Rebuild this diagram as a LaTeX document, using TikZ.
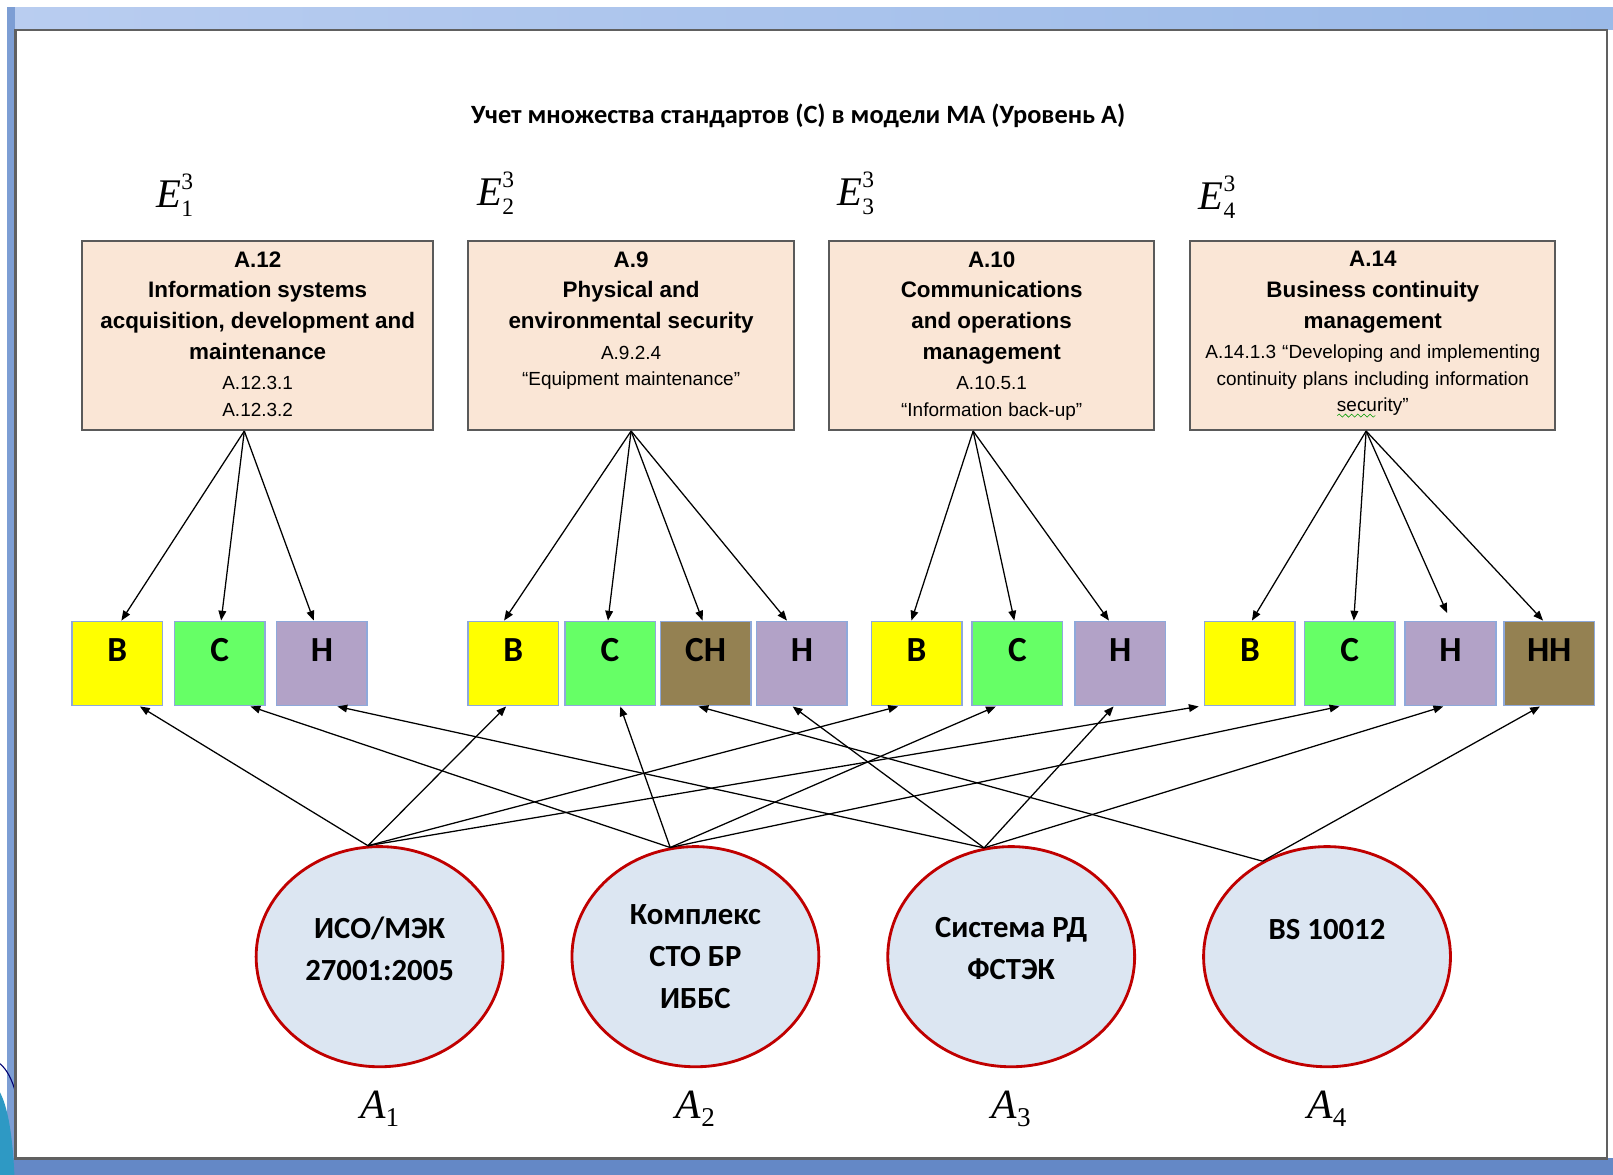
\documentclass[tikz,border=0pt]{standalone}
\usepackage{fontspec}
\setmainfont{Liberation Sans}
\newfontfamily\arialf{Liberation Sans}
\newfontfamily\calibf{Carlito}
\newfontfamily\timesf{Liberation Serif}
\usetikzlibrary{shapes.geometric,arrows.meta,decorations.pathmorphing}

\definecolor{peach}{RGB}{250,230,214}
\definecolor{boxline}{RGB}{90,90,90}
\definecolor{sqline}{RGB}{142,169,219}
\definecolor{yel}{RGB}{255,255,0}
\definecolor{grn}{RGB}{102,255,102}
\definecolor{lav}{RGB}{178,162,199}
\definecolor{sqolive}{RGB}{148,129,82}
\definecolor{ellfill}{RGB}{220,230,242}
\definecolor{ellline}{RGB}{192,0,0}
\definecolor{bandL}{RGB}{185,205,240}
\definecolor{bandR}{RGB}{155,186,232}
\definecolor{bandside}{RGB}{125,158,212}
\definecolor{bandbot}{RGB}{100,136,198}

\newcommand{\hdrtxt}{\arialf\bfseries\fontsize{12.4}{17}\selectfont}
\newcommand{\subtxt}{\arialf\mdseries\fontsize{10.5}{14.5}\selectfont}
\newcommand{\esym}[3]{{\timesf\itshape\fontsize{22.5}{24}\selectfont #1}%
  \rlap{\raisebox{10pt}{\timesf\fontsize{13}{13}\selectfont #3}}%
  \raisebox{-5pt}{\timesf\fontsize{13}{13}\selectfont #2}}
\newcommand{\asym}[2]{{\timesf\itshape\fontsize{23}{24}\selectfont #1}%
  \raisebox{-4.5pt}{\timesf\fontsize{15}{15}\selectfont #2}}
\newcommand{\lowpad}{\rule[-9pt]{0pt}{9pt}}

\begin{document}
\begin{tikzpicture}[x=0.2mm,y=-0.2mm,
    box/.style={draw=boxline, line width=0.4mm, fill=peach, minimum height=36.8mm, inner sep=0pt},
    boxtxt/.style={anchor=north, align=center, inner sep=0pt},
    sq/.style={draw=sqline, line width=0.3mm, minimum width=17.6mm, minimum height=16.4mm, inner sep=0pt},
    sqlbl/.style={font=\calibf\bfseries\fontsize{19.5}{19.5}\selectfont, yshift=2.6mm, inner sep=0pt},
    std/.style={ellipse, draw=ellline, line width=0.55mm, fill=ellfill, minimum width=48mm,
      minimum height=42.8mm, inner sep=0pt, align=center,
      font=\calibf\bfseries\fontsize{17}{23.3}\selectfont},
    arr/.style={-{Triangle[length=1.9mm,width=1.5mm]}, line width=0.7pt}]
    \useasboundingbox (0,0) rectangle (1568,1142);

    % slide frame
    \fill[white] (0,0) rectangle (1568,1142);
    \shade[left color=bandL, right color=bandR] (7,7) rectangle (1568,29);
    \fill[bandside] (7,7) rectangle (15,1142);
    \fill[bandbot] (7,1126) rectangle (1568,1142);
    \fill[cyan!55!teal] (0,1062) .. controls (7,1075) and (12,1100) .. (14,1142) -- (0,1142) -- cycle;
    \draw[blue!45!black, line width=0.6pt] (0,1034) .. controls (7,1040) and (12,1050) .. (15,1062);
    \draw[gray!75!black, line width=0.5mm, fill=white] (15,29) rectangle (1562,1126);

    \node[font=\calibf\bfseries\fontsize{14.6}{16}\selectfont] (title) at (776,113)
      {Учет множества стандартов (С) в модели МА (Уровень А)};

    % controls of the standard
    \node (LE1) at (170,190) {\esym{E}{1}{3}};
    \node (LE2) at (482,188) {\esym{E}{2}{3}};
    \node (LE3) at (832,188) {\esym{E}{3}{3}};
    \node (LE4) at (1183,192) {\esym{E}{4}{3}};

    \node[box, minimum width=68.2mm] (E1) at (250.5,326) {};
    \node[box, minimum width=63.4mm] (E2) at (613.5,326) {};
    \node[box, minimum width=63.2mm] (E3) at (964,326) {};
    \node[box, minimum width=71mm] (E4) at (1334.5,326) {};

    \node[boxtxt, text width=66mm] (T1) at ([yshift=-2.2mm]E1.north)
      {\hdrtxt A.12\\Information systems\\acquisition, development and\\maintenance\par
       \vspace{2.5pt}\subtxt A.12.3.1\\A.12.3.2\par};
    \node[boxtxt, text width=61mm] (T2) at ([yshift=-2.2mm]E2.north)
      {\hdrtxt A.9\\Physical and\\environmental security\par
       \vspace{2.5pt}\subtxt A.9.2.4\\“Equipment maintenance”\par};
    \node[boxtxt, text width=61mm] (T3) at ([yshift=-2.2mm]E3.north)
      {\hdrtxt A.10\\Communications\\and operations\\management\par
       \vspace{2.5pt}\subtxt A.10.5.1\\“Information back-up”\par};
    \node[boxtxt, text width=70mm] (T4) at ([yshift=-2.2mm]E4.north)
      {\hdrtxt A.14\\Business continuity\\management\par
       \vspace{2.5pt}\subtxt A.14.1.3 “Developing and implementing\\continuity plans including information\\security”\par};
    \draw[green!60!black, line width=0.3pt, decorate,
      decoration={snake, amplitude=0.3mm, segment length=1.2mm}] (1300,404) -- (1337,404);

    % levels
    \foreach \n/\x/\c/\l in {B1/114/yel/В, C1/213.5/grn/С, H1/313/lav/Н,
        B2/499/yel/В, C2/593/grn/С, CH2/686/sqolive/СН, H2/779.5/lav/Н,
        B3/891/yel/В, C3/989/grn/С, H3/1089/lav/Н,
        B4/1215/yel/В, C4/1312/grn/С, H4/1410/lav/Н, HH4/1506/sqolive/НН}
      \node[sq, fill=\c, label={[sqlbl]center:\l}] (\n) at (\x,645) {};

    % standards
    \node[std] (A1) at (369,930) {ИСО/МЭК\\27001:2005\lowpad};
    \node[std] (A2) at (676,930) {Комплекс\\СТО БР\\ИББС};
    \node[std] (A3) at (983,930) {Система РД\\ФСТЭК\lowpad};
    \node[std] (A4) at (1290,930) {BS 10012\\\strut};

    \node (LA1) at (369,1078) {\asym{A}{1}};
    \node (LA2) at (676,1078) {\asym{A}{2}};
    \node (LA3) at (983,1078) {\asym{A}{3}};
    \node (LA4) at (1290,1078) {\asym{A}{4}};

    % controls -> levels
    \draw[arr] ([xshift=-2.6mm]E1.south) -- ([xshift=0.8mm]B1.north);
    \draw[arr] ([xshift=-2.6mm]E1.south) -- ([xshift=0.3mm]C1.north);
    \draw[arr] ([xshift=-2.6mm]E1.south) -- ([xshift=-1.6mm]H1.north);
    \draw[arr] (E2.south) -- ([xshift=-1.8mm]B2.north);
    \draw[arr] (E2.south) -- ([xshift=-0.4mm]C2.north);
    \draw[arr] (E2.south) -- ([xshift=-0.6mm]CH2.north);
    \draw[arr] (E2.south) -- ([xshift=-2.9mm]H2.north);
    \draw[arr] ([xshift=-3.6mm]E3.south) -- ([xshift=-1mm]B3.north);
    \draw[arr] ([xshift=-3.6mm]E3.south) -- ([xshift=-0.6mm]C3.north);
    \draw[arr] ([xshift=-3.6mm]E3.south) -- ([xshift=-2.2mm]H3.north);
    \draw[arr] ([xshift=-1.3mm]E4.south) -- ([xshift=0.4mm]B4.north);
    \draw[arr] ([xshift=-1.3mm]E4.south) -- ([xshift=0.8mm]C4.north);
    \draw[arr, shorten >=1.6mm] ([xshift=-1.3mm]E4.south) -- (H4.north);
    \draw[arr] ([xshift=-1.3mm]E4.south) -- ([xshift=-1.2mm]HH4.north);

    % standards -> levels
    \draw[arr] (A1.96) -- ([xshift=4.4mm]B1.south);
    \draw[arr] (A1.96) -- ([xshift=-1.4mm]B2.south);
    \draw[arr] (A1.96) -- ([xshift=-3.6mm]B3.south);
    \draw[arr] (A1.96) -- ([xshift=-1mm]B4.south west);
    \draw[arr] (A2.103) -- ([xshift=6mm]C1.south);
    \draw[arr] (A2.103) -- ([xshift=2mm]C2.south);
    \draw[arr] (A2.103) -- ([xshift=-4.2mm]C3.south);
    \draw[arr] (A2.103) -- ([xshift=-2mm]C4.south);
    \draw[arr] (A3.104) -- ([xshift=3mm]H1.south);
    \draw[arr] (A3.104) -- ([xshift=-1.8mm]H2.south);
    \draw[arr] (A3.104) -- ([xshift=-1.3mm]H3.south);
    \draw[arr] (A3.104) -- ([xshift=-1.4mm]H4.south);
    \draw[arr] (A4.124) -- ([xshift=-1.4mm]CH2.south);
    \draw[arr] (A4.124) -- ([xshift=-1.8mm]HH4.south);
  \end{tikzpicture}
\end{document}
